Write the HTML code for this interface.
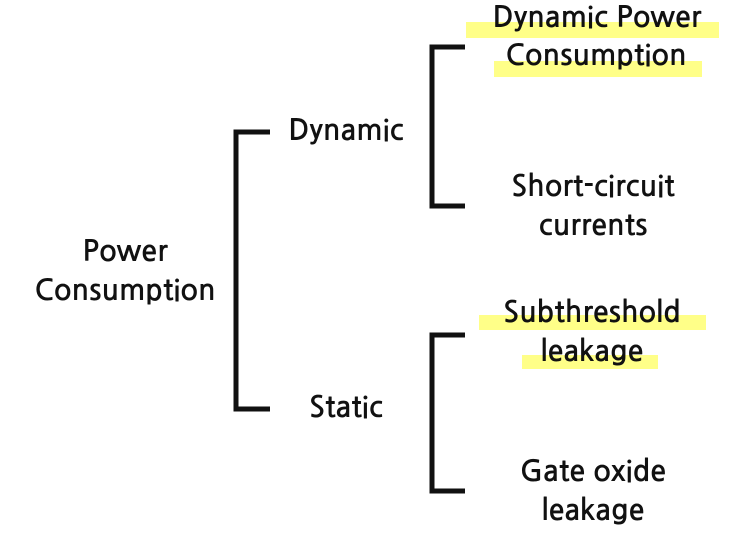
<!DOCTYPE html>
<html><head><meta charset="utf-8"><style>
html,body{margin:0;padding:0;background:#fff;}
svg{display:block;}
text{font-family:"NanumGothic","Liberation Sans",sans-serif;font-weight:bold;font-size:29px;fill:#111;text-anchor:middle;dominant-baseline:central;}
</style></head><body>
<svg width="731" height="543" viewBox="0 0 731 543">
<g fill="#ffff88">
<rect x="466" y="22" width="253" height="16"/>
<rect x="494" y="61" width="208" height="16"/>
<rect x="479" y="315" width="227" height="15"/>
<rect x="522" y="355" width="136" height="14"/>
</g>
<g fill="none" stroke="#111" stroke-width="5">
<polyline points="270,132 236,132 236,409 270,409"/>
<polyline points="465,47 432,47 432,206 465,206"/>
<polyline points="465,335 432,335 432,491 465,491"/>
</g>
<text x="597" y="18">Dynamic Power</text>
<text x="596" y="56">Consumption</text>
<text x="346" y="131">Dynamic</text>
<text x="593" y="187">Short-circuit</text>
<text x="593" y="226">currents</text>
<text x="125" y="252">Power</text>
<text x="125" y="291">Consumption</text>
<text x="592" y="313">Subthreshold</text>
<text x="592" y="352">leakage</text>
<text x="346" y="408">Static</text>
<text x="593" y="472">Gate oxide</text>
<text x="593" y="511">leakage</text>
</svg>
</body></html>
